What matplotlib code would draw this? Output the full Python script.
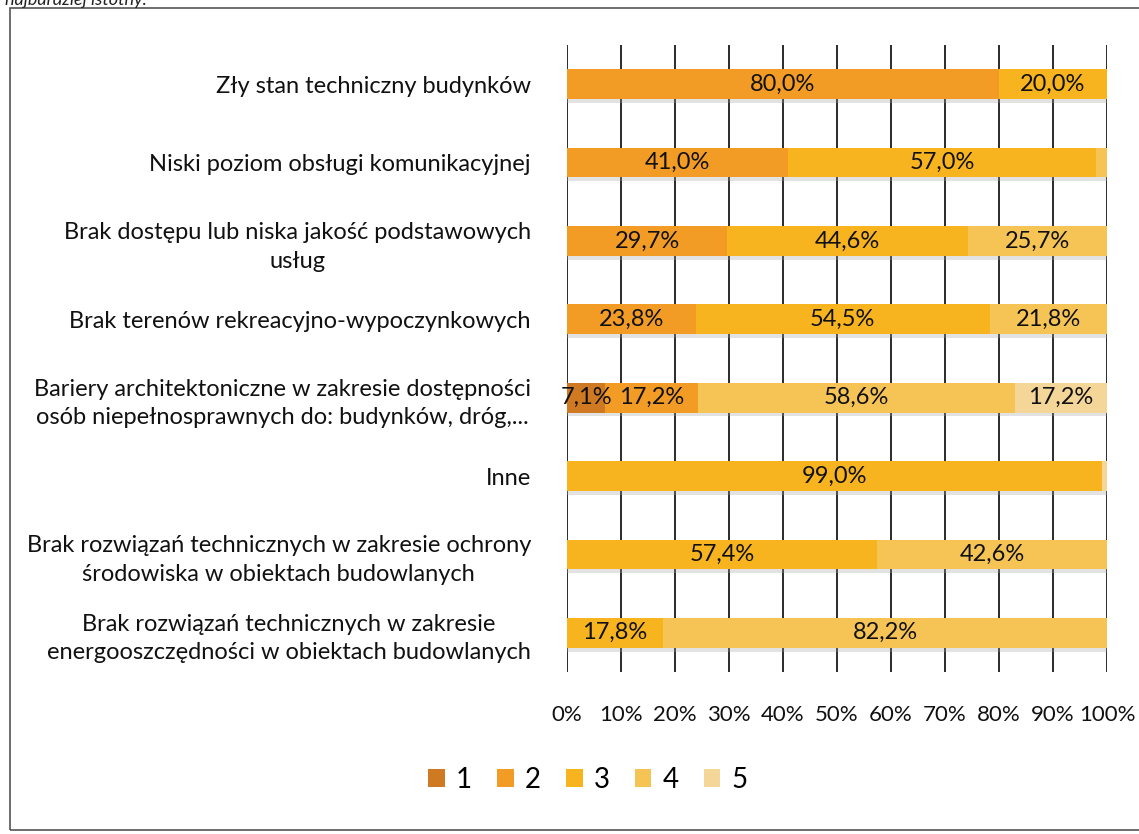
import matplotlib.pyplot as plt
import matplotlib.patches as mpatches
import numpy as np

plt.rcParams['font.family'] = ['Lato', 'DejaVu Sans']

kategorie = [
    "Zły stan techniczny budynków",
    "Niski poziom obsługi komunikacyjnej",
    "Brak dostępu lub niska jakość podstawowych\nusług",
    "Brak terenów rekreacyjno-wypoczynkowych",
    "Bariery architektoniczne w zakresie dostępności\nosób niepełnosprawnych do: budynków, dróg,...",
    "Inne",
    "Brak rozwiązań technicznych w zakresie ochrony\nśrodowiska w obiektach budowlanych",
    "Brak rozwiązań technicznych w zakresie\nenergooszczędności w obiektach budowlanych",
]

# udział odpowiedzi (ocena 1-5) w %
ocena_1 = [0.0, 0.0, 0.0, 0.0, 7.1, 0.0, 0.0, 0.0]
ocena_2 = [80.0, 41.0, 29.7, 23.8, 17.2, 0.0, 0.0, 0.0]
ocena_3 = [20.0, 57.0, 44.6, 54.5, 0.0, 99.0, 57.4, 17.8]
ocena_4 = [0.0, 2.0, 25.7, 21.8, 58.6, 0.0, 42.6, 82.2]
ocena_5 = [0.0, 0.0, 0.0, 0.0, 17.2, 1.0, 0.0, 0.0]

serie = [ocena_1, ocena_2, ocena_3, ocena_4, ocena_5]
nazwy = ["1", "2", "3", "4", "5"]
kolory = ["#cf7a22", "#f29c26", "#f7b41e", "#f6c455", "#f5d699"]

W, H = 1139, 834
fig = plt.figure(figsize=(W / 100, H / 100), dpi=100)
ax = fig.add_axes([567 / W, 1 - 672 / H, 540 / W, (672 - 45) / H])

y = np.arange(len(kategorie))
lewo = np.zeros(len(kategorie))
for wart, nazwa, kolor in zip(serie, nazwy, kolory):
    wart = np.array(wart)
    # lekki cień pod słupkami
    ax.barh(y + 0.05, wart, left=lewo, height=0.38, color="#a0a0a0", alpha=0.3, zorder=2)
    slupki = ax.barh(y, wart, left=lewo, height=0.38, color=kolor, label=nazwa, zorder=3)
    for s, v in zip(slupki, wart):
        if v >= 3:
            ax.text(s.get_x() + s.get_width() / 2, s.get_y() + s.get_height() / 2,
                    f"{v:.1f}%".replace(".", ","), ha="center", va="center",
                    fontsize=17, color="#111111", zorder=4)
    lewo += wart

ax.set_xlim(0, 100)
ax.set_ylim(len(kategorie) - 0.5, -0.5)
ax.set_xticks(np.arange(0, 101, 10))
ax.set_xticklabels([f"{t}%" for t in range(0, 101, 10)], fontsize=16, color="#111111")
ax.set_yticks(y)
ax.set_yticklabels(kategorie, fontsize=17, color="#111111", multialignment="center",
                   linespacing=1.45)
ax.tick_params(axis="both", length=0)
ax.tick_params(axis="y", pad=26)
ax.tick_params(axis="x", pad=24)
ax.grid(True, axis="x", color="#1a1a1a", linewidth=1.3, zorder=1)
ax.set_axisbelow(True)
for sp in ax.spines.values():
    sp.set_visible(False)

leg = fig.legend(loc="center", bbox_to_anchor=(588 / W, 1 - 780 / H), ncol=5,
                 frameon=False, fontsize=20, handlelength=0.6, handleheight=0.6,
                 columnspacing=0.9, handletextpad=0.4)

# ramka wokół wykresu
fig.patches.append(mpatches.Rectangle((10 / W, 4 / H), 1.2, 1 - 12 / H,
                                      transform=fig.transFigure, fill=False,
                                      edgecolor="#555555", linewidth=1.2))
fig.text(0.004, 1.0, "najbardziej istotny.", style="italic", fontsize=13,
         va="center", ha="left", color="#222222")

fig.savefig("out.png", dpi=100)
